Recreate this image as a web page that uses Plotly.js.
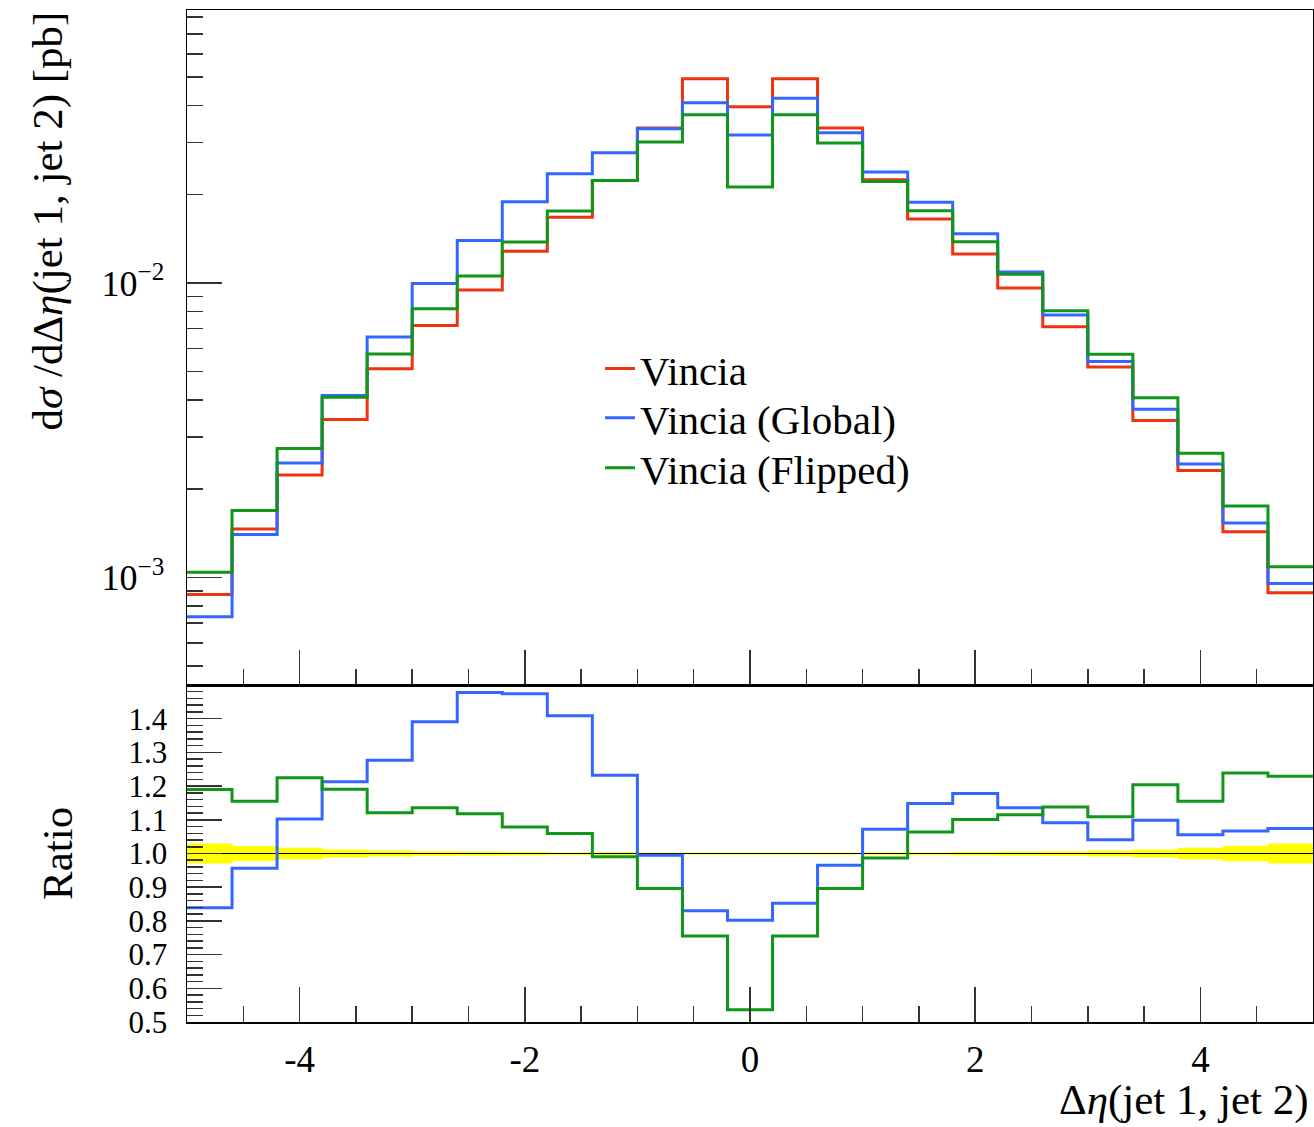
<!DOCTYPE html>
<html>
<head>
<meta charset="utf-8">
<script src="https://cdn.plot.ly/plotly-3.0.1.min.js"></script>
<style>
  html, body { margin: 0; padding: 0; background: #fff; }
  #chart { width: 1314px; height: 1127px; }
</style>
</head>
<body>
<div id="chart"></div>
<script>
// ---- Data ----
const binEdges = [-5, -4.6, -4.2, -3.8, -3.4, -3.0, -2.6, -2.2, -1.8, -1.4, -1.0, -0.6, -0.2,
                  0.2, 0.6, 1.0, 1.4, 1.8, 2.2, 2.6, 3.0, 3.4, 3.8, 4.2, 4.6, 5.0];

const seriesNames = ["Vincia", "Vincia (Global)", "Vincia (Flipped)"];

const vincia = [8.76e-4, 1.462e-3, 2.23e-3, 3.44e-3, 5.12e-3, 7.18e-3, 9.46e-3, 1.283e-2, 1.671e-2,
                2.23e-2, 3.36e-2, 4.94e-2, 3.97e-2, 4.94e-2, 3.36e-2, 2.24e-2, 1.65e-2, 1.254e-2,
                9.62e-3, 7.11e-3, 5.19e-3, 3.41e-3, 2.31e-3, 1.43e-3, 8.88e-4];

const vinciaGlobal = [7.36e-4, 1.40e-3, 2.45e-3, 4.15e-3, 6.56e-3, 9.97e-3, 1.393e-2, 1.888e-2, 2.35e-2,
                      2.77e-2, 3.34e-2, 4.09e-2, 3.18e-2, 4.24e-2, 3.24e-2, 2.38e-2, 1.88e-2, 1.47e-2,
                      1.09e-2, 7.78e-3, 5.41e-3, 3.73e-3, 2.43e-3, 1.53e-3, 9.55e-4];

const vinciaFlipped = [1.043e-3, 1.69e-3, 2.74e-3, 4.09e-3, 5.74e-3, 8.17e-3, 1.057e-2, 1.377e-2, 1.757e-2,
                       2.23e-2, 3.01e-2, 3.73e-2, 2.12e-2, 3.73e-2, 2.99e-2, 2.21e-2, 1.76e-2, 1.38e-2,
                       1.07e-2, 8.05e-3, 5.73e-3, 4.08e-3, 2.64e-3, 1.75e-3, 1.088e-3];

const ratioVincia = [1, 1, 1, 1, 1, 1, 1, 1, 1, 1, 1, 1, 1, 1, 1, 1, 1, 1, 1, 1, 1, 1, 1, 1, 1];

const ratioGlobal = [0.839, 0.956, 1.102, 1.213, 1.277, 1.391, 1.478, 1.474, 1.409, 1.232, 0.995, 0.830,
                     0.802, 0.852, 0.965, 1.072, 1.148, 1.178, 1.136, 1.091, 1.041, 1.099, 1.056, 1.067, 1.074];

const ratioFlipped = [1.190, 1.155, 1.225, 1.191, 1.121, 1.136, 1.118, 1.079, 1.059, 0.990, 0.896, 0.755,
                      0.536, 0.755, 0.896, 0.987, 1.064, 1.101, 1.115, 1.138, 1.109, 1.204, 1.155, 1.239, 1.229];

const ratioErr = [0.030, 0.022, 0.017, 0.012, 0.009, 0.007, 0.006, 0.005, 0.004, 0.004, 0.003, 0.003,
                  0.003, 0.003, 0.003, 0.004, 0.004, 0.005, 0.006, 0.007, 0.009, 0.012, 0.017, 0.023, 0.030];

const yTickVals = [1e-3, 1e-2];
const yTickText = ["10<sup>−3</sup>", "10<sup>−2</sup>"];
const ratioTickVals = [0.5, 0.6, 0.7, 0.8, 0.9, 1.0, 1.1, 1.2, 1.3, 1.4];
const ratioTickText = ["0.5", "0.6", "0.7", "0.8", "0.9", "1.0", "1.1", "1.2", "1.3", "1.4"];
const xTickVals = [-4, -2, 0, 2, 4];
const xTickText = ["-4", "-2", "0", "2", "4"];

// ---- Styling ----
const colors = ["#EE3311", "#3366FF", "#109618"];
const FONT = "Liberation Serif, Times New Roman, serif";
const LW = 3;

function stepY(arr) { return arr.concat([arr[arr.length - 1]]); }

// log minor tick positions
const logMinor = [];
[1e-4, 1e-3, 1e-2].forEach(d => { for (let k = 2; k <= 9; k++) logMinor.push(k * d); });

const legendIds = ["legend", "legend2", "legend3"];
const traces = [];
[vincia, vinciaGlobal, vinciaFlipped].forEach((s, i) => {
  traces.push({
    x: binEdges, y: stepY(s), type: "scatter", mode: "lines",
    line: { shape: "hv", color: colors[i], width: LW },
    name: seriesNames[i], xaxis: "x", yaxis: "y", showlegend: true, legend: legendIds[i]
  });
});

// Ratio band
traces.push({
  x: binEdges, y: stepY(ratioErr.map(e => 1 - e)), type: "scatter", mode: "lines",
  line: { shape: "hv", width: 0, color: "rgba(0,0,0,0)" },
  xaxis: "x2", yaxis: "y2", showlegend: false, hoverinfo: "skip"
});
traces.push({
  x: binEdges, y: stepY(ratioErr.map(e => 1 + e)), type: "scatter", mode: "lines",
  line: { shape: "hv", width: 0, color: "rgba(0,0,0,0)" },
  fill: "tonexty", fillcolor: "#FFFF00",
  xaxis: "x2", yaxis: "y2", showlegend: false, hoverinfo: "skip"
});
traces.push({
  x: binEdges, y: stepY(ratioVincia), type: "scatter", mode: "lines",
  line: { shape: "hv", color: "#000000", width: 1.2 },
  xaxis: "x2", yaxis: "y2", showlegend: false
});
[ratioGlobal, ratioFlipped].forEach((s, i) => {
  traces.push({
    x: binEdges, y: stepY(s), type: "scatter", mode: "lines",
    line: { shape: "hv", color: colors[i + 1], width: LW },
    xaxis: "x2", yaxis: "y2", showlegend: false
  });
});

const tickCol = "#333333";
const baseAxis = {
  showline: true, linecolor: "#000", linewidth: 1.5, mirror: true,
  showgrid: false, zeroline: false,
  ticks: "inside", ticklen: 35, tickwidth: 1.5, tickcolor: tickCol
};

function legendAt(yPaper) {
  return {
    x: 0.3668, y: yPaper, xanchor: "left", yanchor: "middle",
    font: { family: FONT, size: 41, color: "#000" },
    bgcolor: "rgba(0,0,0,0)", borderwidth: 0, traceorder: "normal"
  };
}

const layout = {
  width: 1314, height: 1127,
  margin: { l: 187, r: 1, t: 10, b: 105, pad: 0 },
  paper_bgcolor: "#fff", plot_bgcolor: "#fff",
  font: { family: FONT, color: "#000", size: 36 },
  showlegend: true,
  legend: legendAt(0.6453),
  legend2: legendAt(0.5968),
  legend3: legendAt(0.5474),
  xaxis: Object.assign({}, baseAxis, {
    domain: [0, 1], range: [-5, 5], anchor: "y",
    tickmode: "linear", tick0: 0, dtick: 2, showticklabels: false,
    minor: { ticks: "inside", ticklen: 16, tickwidth: 1.5, tickcolor: tickCol, tick0: 0, dtick: 0.5, showgrid: false }
  }),
  yaxis: Object.assign({}, baseAxis, {
    domain: [0.333, 1], type: "log", range: [-3.365, -1.073], anchor: "x",
    tickmode: "array", tickvals: yTickVals, ticktext: yTickText,
    ticklabelstandoff: 14,
    tickfont: { family: FONT, size: 36 },
    minor: { ticks: "inside", ticklen: 16, tickwidth: 1.5, tickcolor: tickCol, tickmode: "array", tickvals: logMinor, showgrid: false }
  }),
  xaxis2: Object.assign({}, baseAxis, {
    domain: [0, 1], range: [-5, 5], anchor: "y2",
    tickmode: "array", tickvals: xTickVals, ticktext: xTickText,
    ticklabelstandoff: 4,
    tickfont: { family: FONT, size: 37 },
    minor: { ticks: "inside", ticklen: 16, tickwidth: 1.5, tickcolor: tickCol, tickmode: "linear", tick0: 0, dtick: 0.5, showgrid: false }
  }),
  yaxis2: Object.assign({}, baseAxis, {
    domain: [0, 0.333], range: [0.5, 1.5], anchor: "x2",
    tickmode: "array", tickvals: ratioTickVals, ticktext: ratioTickText,
    ticklabelstandoff: 12,
    tickfont: { family: FONT, size: 31 },
    minor: { ticks: "inside", ticklen: 16, tickwidth: 1.5, tickcolor: tickCol, tickmode: "linear", tick0: 0.5, dtick: 0.02, showgrid: false }
  }),
  annotations: [
    {
      text: "d<i>σ</i> /dΔ<i>η</i>(jet 1, jet 2) [pb]",
      xref: "paper", yref: "paper", x: -0.1243, y: 1.0, xanchor: "center", yanchor: "top",
      textangle: -90, showarrow: false, font: { family: FONT, size: 43, color: "#000" }
    },
    {
      text: "Ratio",
      xref: "paper", yref: "paper", x: -0.1146, y: 0.167, xanchor: "center", yanchor: "middle",
      textangle: -90, showarrow: false, font: { family: FONT, size: 43, color: "#000" }
    },
    {
      text: "Δ<i>η</i>(jet 1, jet 2)",
      xref: "paper", yref: "paper", x: 0.998, y: -0.077, xanchor: "right", yanchor: "middle",
      showarrow: false, font: { family: FONT, size: 43, color: "#000" }
    }
  ]
};

Plotly.newPlot("chart", traces, layout, { staticPlot: true, displayModeBar: false });
</script>
</body>
</html>
